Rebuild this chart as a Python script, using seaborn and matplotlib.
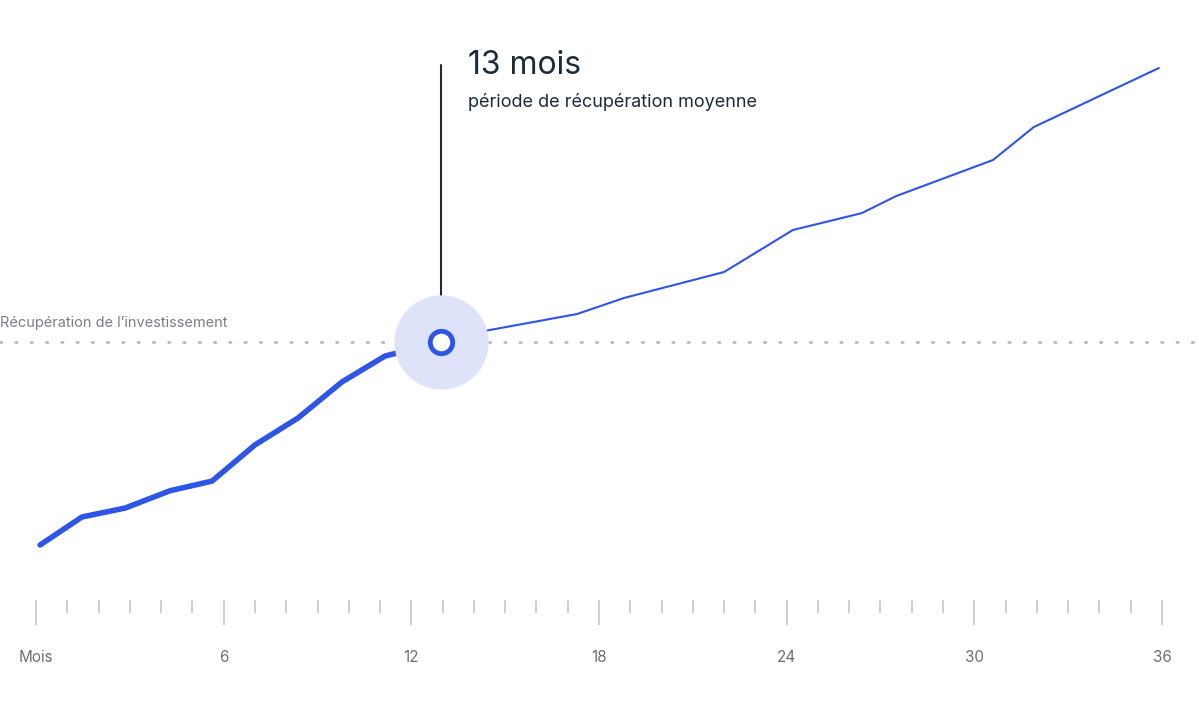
import matplotlib
matplotlib.use("Agg")
import matplotlib.pyplot as plt
import seaborn as sns
import pandas as pd

sns.set_theme(style="white")
plt.rcParams['font.family'] = ['Inter', 'DejaVu Sans']

months = [0.13, 1.47, 2.85, 4.28, 5.63, 7.0, 8.38, 9.78, 11.16, 12.95,
          14.5, 17.3, 18.8, 22.0, 24.2, 26.4, 27.5, 30.6, 31.9, 35.9]
recovery = [0, 13.8, 18.2, 26.7, 31.5, 49.3, 62.6, 80.3, 93.1, 100,
            105.9, 113.8, 121.7, 134.5, 155.2, 163.5, 171.9, 189.7, 205.9, 235.0]
payback_month = 12.95
tick_labels = ["Mois", "6", "12", "18", "24", "30", "36"]

df = pd.DataFrame({"month": months, "value": recovery})
before = df[df.month <= payback_month]
after = df[df.month >= payback_month]

fig = plt.figure(figsize=(11.99, 7.16), dpi=100)
ax = fig.add_axes([36/1199, 116/716, 1126/1199, 560/716])
blue = "#2f55e4"
navy = "#1c2b3a"

sns.lineplot(data=before, x="month", y="value", ax=ax, color=blue, lw=4, solid_capstyle="round")
sns.lineplot(data=after, x="month", y="value", ax=ax, color=blue, lw=1.5)

ax.set_xlim(0, 36)
ax.set_ylim(-27.1, 248.8)
ax.axhline(100, xmin=-36/1126, xmax=1+37/1126, clip_on=False, color="#b5b8bc",
           lw=2, ls=(0, (0.5, 5)), dash_capstyle="round", zorder=1)
ax.text(-36/1126*36, 106, "Récupération de l’investissement", fontsize=10.5,
        color="#7a7f86", ha="left", va="bottom")

ax.plot([payback_month, payback_month], [100, 236.5], color=navy, lw=1.5, zorder=2)
ax.scatter([payback_month], [100], s=4600, color="#dfe3fa", zorder=3, linewidths=0)
ax.scatter([payback_month], [100], s=260, color="white", edgecolors=blue, linewidths=3.5, zorder=4)
ax.text(13.8, 236, "13 mois", fontsize=23, color=navy, va="center")
ax.text(13.8, 218.5, "période de récupération moyenne", fontsize=13, color=navy, va="center")

ax.set_xticks(range(0, 37, 6))
ax.set_xticklabels(tick_labels)
ax.set_xticks(range(0, 37), minor=True)
ax.tick_params(axis="x", which="major", length=18, width=1.2, color="#c4c7cb",
               labelsize=11, labelcolor="#6b7078", pad=18, bottom=True)
ax.tick_params(axis="x", which="minor", length=9, width=1.2, color="#c4c7cb", bottom=True)
ax.set_yticks([])
ax.set_xlabel("")
ax.set_ylabel("")
for s in ax.spines.values():
    s.set_visible(False)

fig.savefig("out.png", dpi=100)
